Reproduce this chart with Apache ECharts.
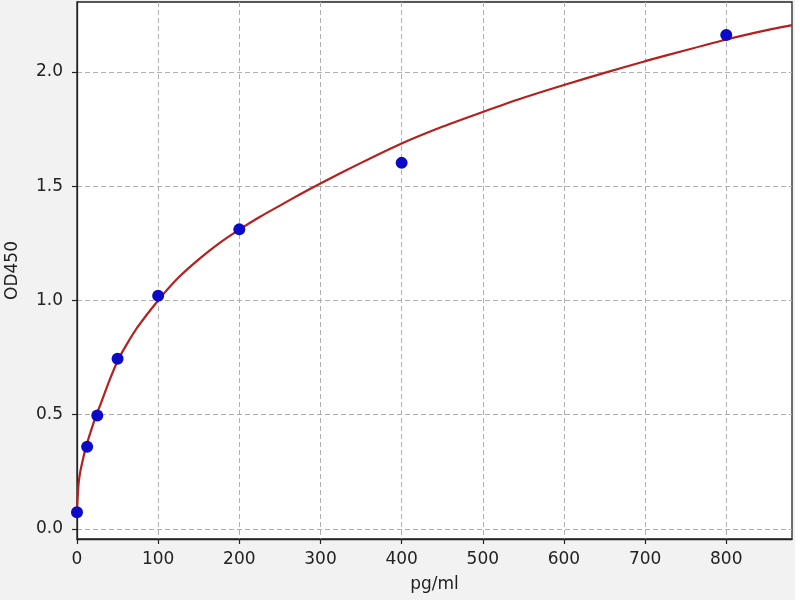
<!DOCTYPE html>
<html>
<head>
<meta charset="utf-8">
<script src="https://cdn.jsdelivr.net/npm/echarts@6/dist/echarts.min.js"></script>
<style>
  html, body { margin: 0; padding: 0; background: #ffffff; }
  #chart { width: 795px; height: 600px; background: #f2f2f2; }
</style>
</head>
<body>
<div id="chart"></div>
<script>
// 标准曲线数据 (pg/ml vs OD450)
var conc = [0, 12.5, 25, 50, 100, 200, 400, 800];
var od = [0.073, 0.36, 0.496, 0.745, 1.02, 1.311, 1.602, 2.162];

// 拟合曲线, 点
var curveX = [0, 2, 4, 7, 10, 12.5, 15, 20, 25, 30, 40, 50, 60, 75, 100, 125, 150, 175, 200, 225, 250, 275, 300, 350, 400, 450, 500, 550, 600, 650, 700, 750, 800, 850, 881];
var curveY = [0.09, 0.2, 0.25, 0.3, 0.345, 0.375, 0.405, 0.46, 0.51, 0.555, 0.65, 0.735, 0.8, 0.885, 1.0, 1.1, 1.18, 1.25, 1.31, 1.365, 1.415, 1.465, 1.512, 1.602, 1.687, 1.76, 1.825, 1.887, 1.943, 1.996, 2.047, 2.095, 2.142, 2.183, 2.205];

var xTicks = [0, 100, 200, 300, 400, 500, 600, 700, 800];
var yTicks = [0, 0.5, 1.0, 1.5, 2.0];

var myChart = echarts.init(document.getElementById('chart'));

var pts = conc.map(function (c, i) { return [c, od[i]]; });
var line = curveX.map(function (c, i) { return [c, curveY[i]]; });

var font = 'DejaVu Sans';

option = {
	animation: false,
	grid: {
		left: 77,
		right: 3,
		top: 2,
		bottom: 61,
		outerBoundsMode: 'none',
		containLabel: false,
		show: true,
		backgroundColor: '#ffffff',
		borderColor: '#222',
		borderWidth: 1.3
	},
	xAxis: {
		type: 'value',
		min: 0,
		max: 881,
		name: 'pg/ml',
		nameLocation: 'middle',
		nameGap: 37,
		nameTextStyle: { color: '#222', fontFamily: font, fontSize: 17 },
		axisLine: { show: true, onZero: false, lineStyle: { color: '#222', width: 1.3 } },
		axisTick: {
			show: true,
			length: 5,
			customValues: xTicks,
			lineStyle: { color: '#222', width: 1.2 }
		},
		axisLabel: {
			customValues: xTicks,
			margin: 12,
			color: '#222',
			fontFamily: font,
			fontSize: 17
		},
		splitLine: {
			show: true,
			lineStyle: { color: '#b0b0b0', type: [5, 3], width: 1 }
		}
	},
	yAxis: {
		type: 'value',
		min: -0.044,
		max: 2.306,
		name: 'OD450',
		nameLocation: 'middle',
		nameGap: 56,
		nameTextStyle: { color: '#222', fontFamily: font, fontSize: 17 },
		axisLine: { show: true, onZero: false, lineStyle: { color: '#222', width: 1.3 } },
		axisTick: {
			show: true,
			length: 5,
			customValues: yTicks,
			lineStyle: { color: '#222', width: 1.2 }
		},
		axisLabel: {
			customValues: yTicks,
			margin: 14,
			color: '#222',
			fontFamily: font,
			fontSize: 17,
			formatter: function (v) { return v.toFixed(1); }
		},
		splitLine: {
			show: true,
			lineStyle: { color: '#b0b0b0', type: [5, 3], width: 1 }
		}
	},
	series: [{
		name: 'fit',
		type: 'line',
		data: line,
		smooth: 0.2,
		showSymbol: false,
		lineStyle: { color: '#b5201e', width: 2.2 },
		z: 2
	}, {
		name: 'std',
		type: 'scatter',
		data: pts,
		symbolSize: 12,
		itemStyle: { color: '#0a0ac8', opacity: 1 },
		z: 3
	}]
};

myChart.setOption(option);
</script>
</body>
</html>
